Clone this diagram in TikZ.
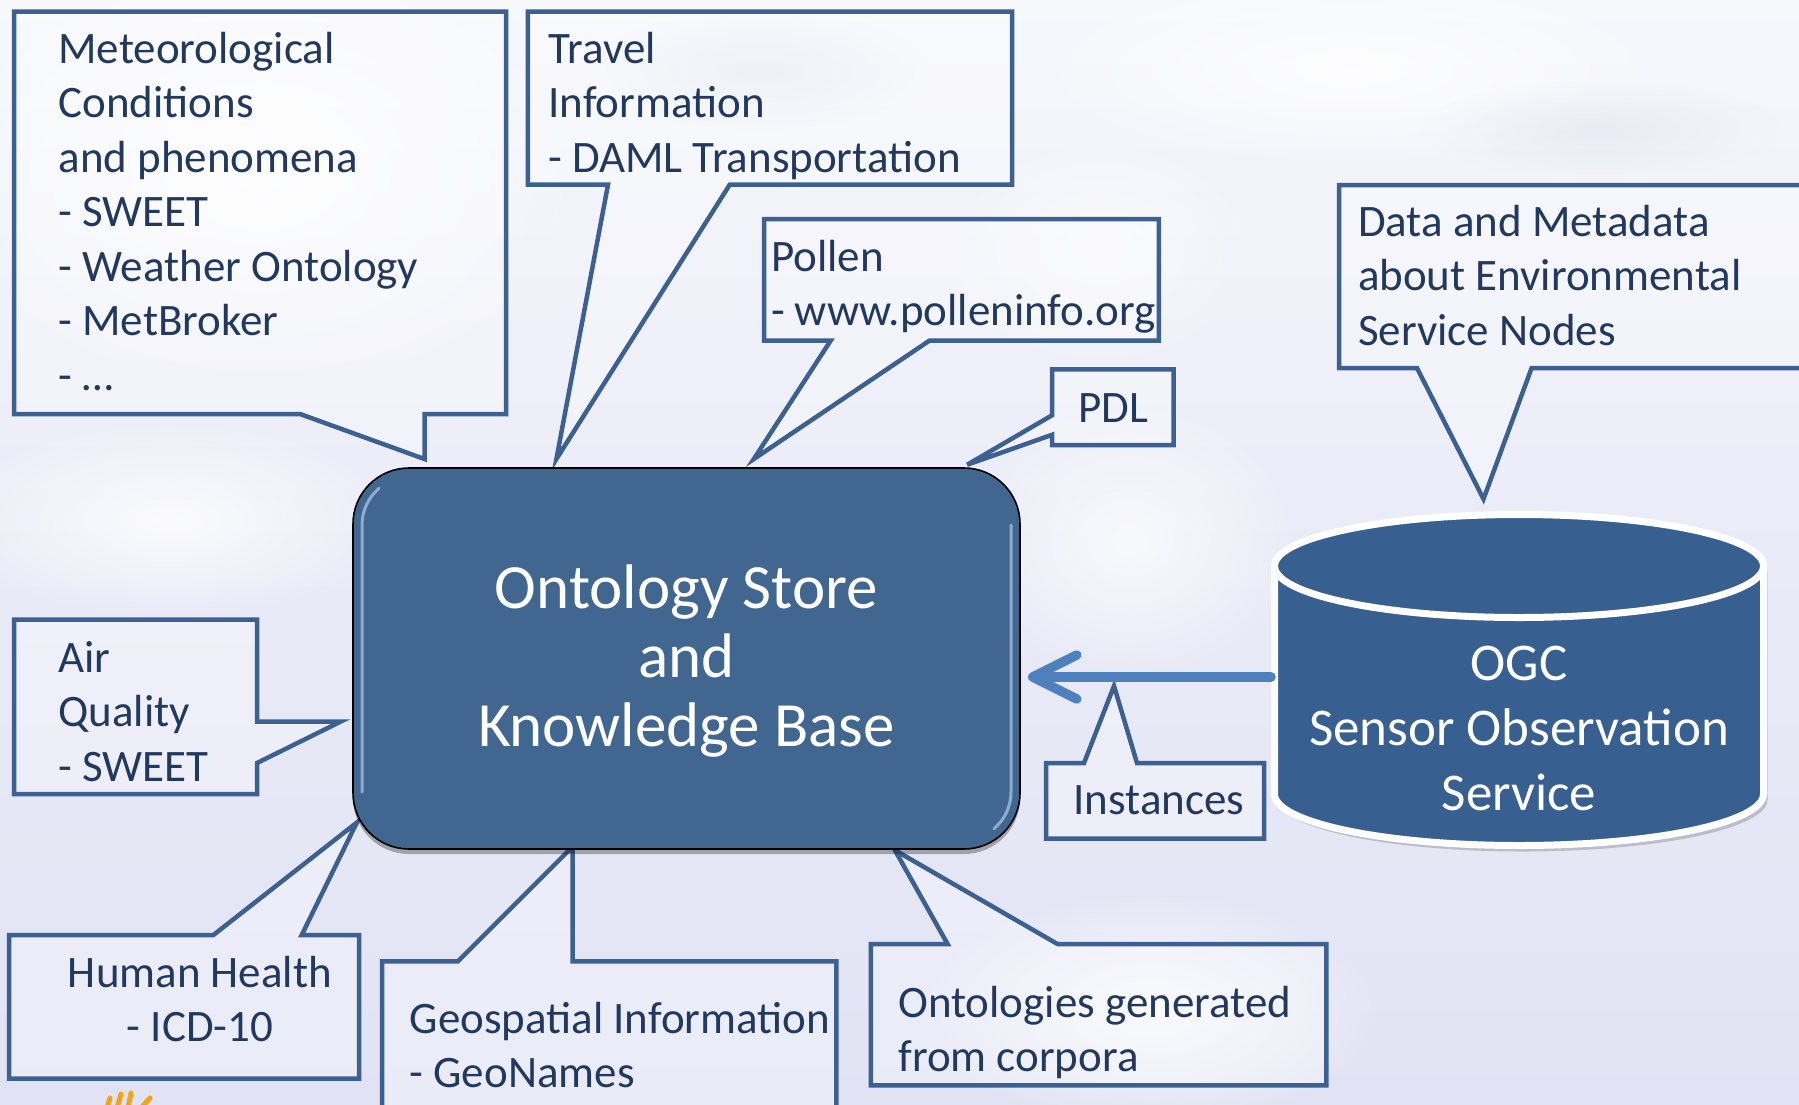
\documentclass[tikz,border=0pt]{standalone}
\usepackage{fontspec}
\setmainfont{Carlito}
\usetikzlibrary{arrows.meta,fadings,shadows}

\definecolor{txtblue}{HTML}{22395F}
\definecolor{calloutline}{HTML}{3C6191}
\definecolor{kbfill}{HTML}{41668F}
\definecolor{cylfill}{HTML}{375F8F}
\definecolor{arrowblue}{HTML}{4E80BD}
\definecolor{glossblue}{HTML}{A9C4E6}
\definecolor{skytop}{HTML}{F7F8FC}
\definecolor{skymid}{HTML}{EAEBF7}
\definecolor{skybot}{HTML}{E1E3F4}
\definecolor{sunorange}{HTML}{F5A21B}

% soft radial fading for the cloud patches
\tikzfading[name=softblob, inner color=transparent!0, outer color=transparent!100]

% multi-line nodes are placed by the baseline of their last line
\tikzset{
  callout/.style={draw=calloutline, line width=4.5pt, line join=miter,
    fill=white, fill opacity=0.3},
  bodytext/.style={text=txtblue, font=\fontsize{45}{54.5}\selectfont,
    inner sep=0pt, outer sep=0pt, align=left, anchor=base west},
  bodycentre/.style={bodytext, align=center, anchor=base},
  kbbox/.style={rectangle, rounded corners=56pt, draw=black, line width=1.6pt,
    fill=kbfill, minimum width=667pt, minimum height=381pt,
    inner sep=0pt, outer sep=0pt,
    drop shadow={shadow xshift=0pt, shadow yshift=-5pt, opacity=0.3, fill=black}},
  kbtext/.style={text=white, font=\fontsize{63}{69}\selectfont,
    inner sep=0pt, align=center, anchor=base},
  cyltext/.style={text=white, font=\fontsize{53}{65}\selectfont,
    inner sep=0pt, align=center, anchor=base},
  gloss/.style={draw=glossblue, line width=3pt, opacity=0.75, line cap=round},
  cloud/.style={fill=white, path fading=softblob},
  feedarrow/.style={draw=arrowblue, line width=9.5pt, line cap=round,
    -{Straight Barb[length=44pt, width=44pt, round]}, shorten >=8pt},
  sunray/.style={draw=sunorange, line width=5pt, line cap=round},
}

\begin{document}
\begin{tikzpicture}[x=1pt, y=-1pt]
\useasboundingbox (0,0) rectangle (1799,1104);
\clip (0,0) rectangle (1799,1104);

% sky background
\shade[top color=skytop, bottom color=skybot, middle color=skymid]
  (0,0) rectangle (1799,1104);
\fill[cloud, opacity=0.9] (260,170) ellipse [x radius=330, y radius=230];
\fill[cloud, opacity=0.8] (170,520) ellipse [x radius=230, y radius=100];
\fill[cloud, opacity=0.7] (1130,540) ellipse [x radius=170, y radius=140];
\fill[cloud, opacity=0.8] (1150,1010) ellipse [x radius=230, y radius=120];
\fill[cloud, opacity=0.8] (1350,70) ellipse [x radius=330, y radius=100];
\fill[cloud, opacity=0.6] (1100,250) ellipse [x radius=160, y radius=120];
\fill[fill=calloutline!25, path fading=softblob, opacity=0.35]
  (760,70) ellipse [x radius=170, y radius=60];
\fill[fill=calloutline!25, path fading=softblob, opacity=0.3]
  (1600,130) ellipse [x radius=180, y radius=50];

% callouts
\draw[callout] (14,11.5) -- (506,11.5) -- (506,414.2) -- (424.5,414.2)
  -- (424.5,459) -- (300.6,414.2) -- (14,414.2) -- cycle;
\draw[callout] (527.8,11.5) -- (1012,11.5) -- (1012,184.7) -- (729.7,184.7)
  -- (556.4,459) -- (608,184.7) -- (527.8,184.7) -- cycle;
\draw[callout] (764,219) -- (1158.8,219) -- (1158.8,340.7) -- (929.3,340.7)
  -- (753.8,459) -- (830.6,340.7) -- (764,340.7) -- cycle;
\draw[callout] (1052,369.4) -- (1173.7,369.4) -- (1173.7,445) -- (1052,445)
  -- (1052,434.8) -- (967.2,464.7) -- (1052,415.3) -- cycle;
\draw[callout] (1339,185) -- (1850,185) -- (1850,368) -- (1531.6,368)
  -- (1483.5,499) -- (1417,368) -- (1339,368) -- cycle;
\draw[callout] (14,619.5) -- (257,619.5) -- (257,721.6) -- (340.7,721.6)
  -- (257,763) -- (257,794) -- (14,794) -- cycle;
\draw[callout] (9,935) -- (213.4,935) -- (356.8,822.6) -- (301.7,935)
  -- (359,935) -- (359,1078.5) -- (9,1078.5) -- cycle;
\draw[callout] (382,961.4) -- (457.8,961.4) -- (572.5,846.7) -- (572.5,961.4)
  -- (836.4,961.4) -- (836.4,1130) -- (382,1130) -- cycle;
\draw[callout] (870.8,944.2) -- (947.7,944.2) -- (894.9,850.2) -- (1057.8,944.2)
  -- (1326.3,944.2) -- (1326.3,1085.3) -- (870.8,1085.3) -- cycle;
\draw[callout] (1046,763) -- (1084,763) -- (1114,686) -- (1137,763)
  -- (1264,763) -- (1264,838.7) -- (1046,838.7) -- cycle;

% callout texts
\node[bodytext] (met) at (58.5,390) {Meteorological\\Conditions\\and phenomena\\- SWEET\\- Weather Ontology\\- MetBroker\\- \ldots};
\node[bodytext] (travel) at (548.4,172) {Travel\\Information\\- DAML Transportation};
\node[bodytext] (pollen) at (771,325.5) {Pollen\\- www.polleninfo.org};
\node[bodycentre] (pdl) at (1113,422) {PDL};
\node[bodytext] (meta) at (1358,345) {Data and Metadata\\about Environmental\\Service Nodes};
\node[bodytext] (air) at (58.5,781) {Air\\Quality\\- SWEET};
\node[bodycentre] (health) at (200,1041.5) {Human Health\\- ICD-10};
\node[bodytext] (geo) at (409.6,1087.5) {Geospatial Information\\- GeoNames};
\node[bodytext] (corpora) at (898.3,1071.5) {Ontologies generated\\from corpora};
\node[bodycentre] (inst) at (1159,814) {Instances};

% ontology store
\node[kbbox] (kb) at (686.5,658.5) {};
\draw[gloss] (362,792) -- (362,525) arc[start angle=180, end angle=230, radius=48];
\draw[gloss] (1011,525) -- (1011,792) arc[start angle=0, end angle=50, radius=48];
\node[kbtext] (kbt) at (686.5,746) {Ontology Store\\and\\Knowledge Base};

% sensor observation service cylinder
\fill[black, opacity=0.18, shift={(4,6)}]
  (1274.5,566) -- (1274.5,794)
  arc[start angle=180, end angle=0, x radius=244.5, y radius=51.5]
  -- (1763.5,566)
  arc[start angle=0, end angle=-180, x radius=244.5, y radius=51.5] -- cycle;
\filldraw[fill=cylfill, draw=white, line width=7pt]
  (1274.5,566) -- (1274.5,794)
  arc[start angle=180, end angle=0, x radius=244.5, y radius=51.5]
  -- (1763.5,566)
  arc[start angle=0, end angle=-180, x radius=244.5, y radius=51.5] -- cycle;
\draw[white, line width=7pt]
  (1274.5,566) arc[start angle=180, end angle=0, x radius=244.5, y radius=51.5];
\node[cyltext] (sos) at (1519,810) {OGC\\Sensor Observation\\Service};

% instances flowing into the store
\coordinate (sosleft) at (1271,677);
\draw[feedarrow] (sosleft) -- (kb.east |- sosleft);

% logo fragment at the lower edge
\draw[sunray] (107,1108) -- (110,1098);
\draw[sunray] (117,1108) -- (121,1094);
\draw[sunray] (128,1108) -- (131,1093);
\draw[sunray] (141,1108) -- (150,1098);
\end{tikzpicture}
\end{document}
